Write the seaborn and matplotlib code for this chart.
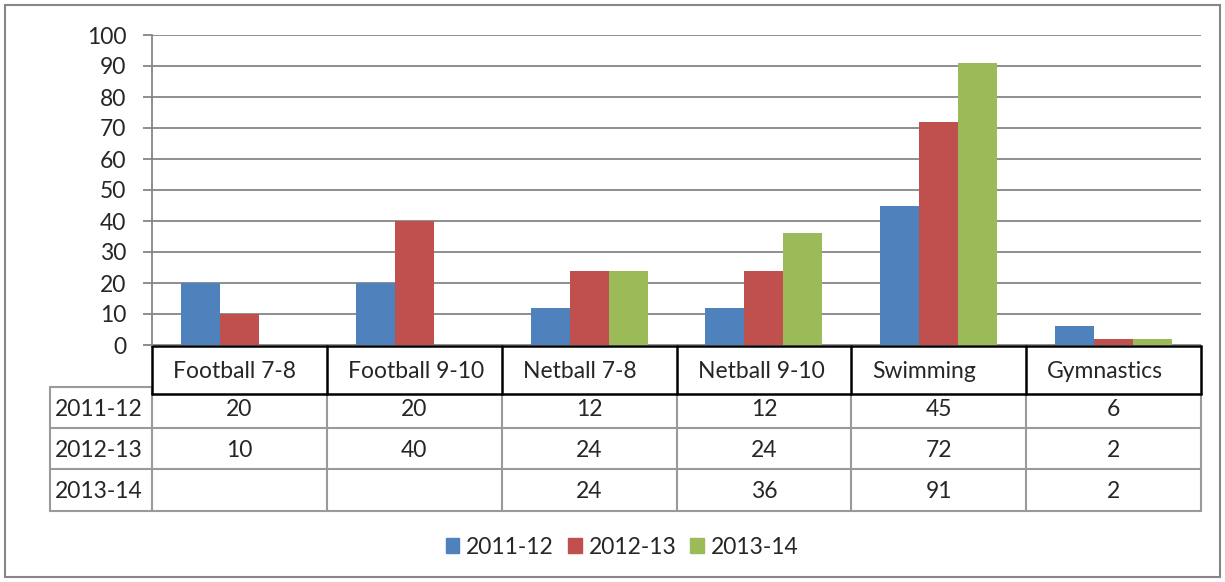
import numpy as np
import pandas as pd
import matplotlib
matplotlib.use("Agg")
import matplotlib.pyplot as plt
import seaborn as sns

# data
categories = ["Football 7-8", "Football 9-10", "Netball 7-8", "Netball 9-10", "Swimming", "Gymnastics"]
seasons = ["2011-12", "2012-13", "2013-14"]
vals_2011 = [20, 20, 12, 12, 45, 6]
vals_2012 = [10, 40, 24, 24, 72, 2]
vals_2013 = [np.nan, np.nan, 24, 36, 91, 2]
colors = ["#4F81BD", "#C0504D", "#9BBB59"]
yticks = list(range(0, 101, 10))

series = [vals_2011, vals_2012, vals_2013]
df = pd.DataFrame({
    "category": categories * 3,
    "season": [s for s in seasons for _ in categories],
    "value": vals_2011 + vals_2012 + vals_2013,
})

sns.set_style("white")
plt.rcParams["font.family"] = ["Lato", "DejaVu Sans"]
FS = 16.5
GRID = "#868686"

W, H = 1225, 582
fig = plt.figure(figsize=(W / 100, H / 100), dpi=100)

# plot area in pixel terms
left, right, top, bottom = 152, 1201, 35, 345
ax = fig.add_axes([left / W, 1 - bottom / H, (right - left) / W, (bottom - top) / H])

sns.barplot(data=df, x="category", y="value", hue="season", hue_order=seasons,
            order=categories, palette=colors, width=0.67, gap=0, saturation=1,
            errorbar=None, ax=ax, legend=False, linewidth=0)

ax.set_ylim(0, 100)
ax.set_xlim(-0.5, len(categories) - 0.5)
ax.set_yticks(yticks)
ax.set_yticklabels([str(t) for t in yticks], fontsize=FS)
ax.set_xticks([])
ax.set_xlabel("")
ax.set_ylabel("")
ax.set_axisbelow(True)
ax.grid(axis="y", color=GRID, linewidth=1.3)
ax.tick_params(axis="y", length=6.5, width=1.3, color=GRID, pad=12, left=True)
for side in ["top", "right", "bottom"]:
    ax.spines[side].set_visible(False)
ax.spines["left"].set_color(GRID)
ax.spines["left"].set_linewidth(1.3)

# data table underneath, drawn in pixel coordinates
tab = fig.add_axes([0, 0, 1, 1], zorder=-1)
tab.set_xlim(0, W)
tab.set_ylim(H, 0)
tab.axis("off")

col_w = (right - left) / len(categories)
col_edges = [left + i * col_w for i in range(len(categories) + 1)]
lab_left = 50
hdr_top, hdr_bot = 346, 394
row_edges = [387, 428, 469, 511]
TGRID = "#9a9a9a"

# outer chart border
tab.add_patch(plt.Rectangle((5, 5), W - 10, H - 10, fill=False, edgecolor=GRID, linewidth=1.5))

# grey data-row grid
for y in row_edges[1:]:
    tab.plot([lab_left, right], [y, y], color=TGRID, lw=1.5)
tab.plot([lab_left, left], [row_edges[0], row_edges[0]], color=TGRID, lw=1.5)
tab.plot([lab_left, lab_left], [row_edges[0], row_edges[-1]], color=TGRID, lw=1.5)
for x in col_edges:
    tab.plot([x, x], [hdr_bot, row_edges[-1]], color=TGRID, lw=1.5)
tab.plot([left, left], [row_edges[0], hdr_bot], color=TGRID, lw=1.5)

# black header box
tab.plot([left, right], [hdr_top, hdr_top], color="black", lw=1.8)
tab.plot([left, right], [hdr_bot, hdr_bot], color="black", lw=1.8)
for x in col_edges:
    tab.plot([x, x], [hdr_top, hdr_bot], color="black", lw=1.8)

for i, cat in enumerate(categories):
    tab.text(col_edges[i] + 21, (hdr_top + hdr_bot) / 2, cat, fontsize=FS,
             ha="left", va="center_baseline")

for r, (season, vals) in enumerate(zip(seasons, series)):
    yc = (row_edges[r] + row_edges[r + 1]) / 2
    tab.text(lab_left + 5, yc, season, fontsize=FS, ha="left", va="center_baseline")
    for i, v in enumerate(vals):
        if not np.isnan(v):
            tab.text((col_edges[i] + col_edges[i + 1]) / 2, yc, f"{v:g}", fontsize=FS,
                     ha="center", va="center_baseline")

# legend
handles = [plt.Rectangle((0, 0), 1, 1, color=c) for c in colors]
fig.legend(handles, seasons, loc="center", bbox_to_anchor=(622 / W, 1 - 547 / H),
           ncol=3, frameon=False, fontsize=FS, handlelength=0.6, handleheight=0.6,
           handletextpad=0.3, columnspacing=0.6)

fig.savefig("out.png", dpi=100)
